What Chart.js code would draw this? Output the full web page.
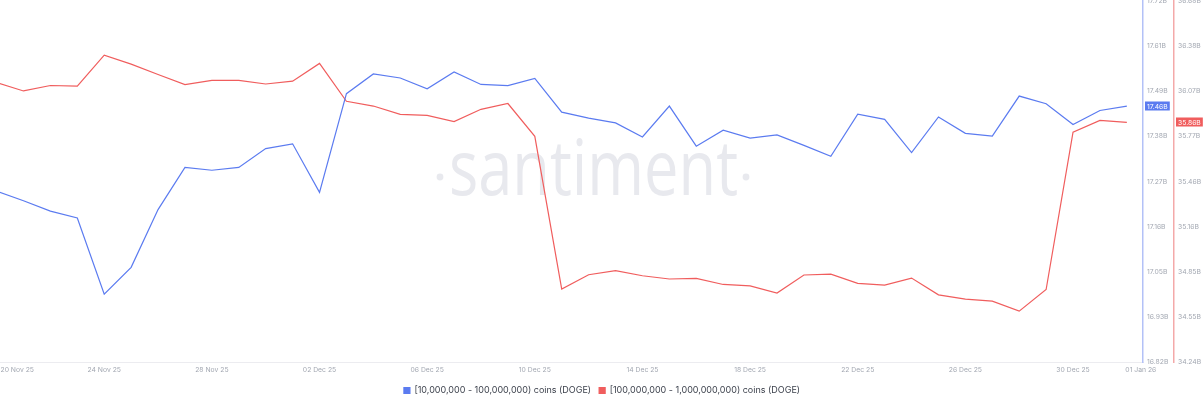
<!DOCTYPE html>
<html>
<head>
<meta charset="utf-8">
<script src="https://cdn.jsdelivr.net/npm/chart.js@4/dist/chart.umd.min.js"></script>
<style>
html,body{margin:0;padding:0;background:#fff;overflow:hidden;}
#wrap{position:relative;width:1204px;height:405px;}
</style>
</head>
<body>
<div id="wrap"><canvas id="c" width="1204" height="405"></canvas></div>
<script>
const dates = ['20 Nov 25','21 Nov 25','22 Nov 25','23 Nov 25','24 Nov 25','25 Nov 25','26 Nov 25','27 Nov 25','28 Nov 25','29 Nov 25','30 Nov 25',
  '01 Dec 25','02 Dec 25','03 Dec 25','04 Dec 25','05 Dec 25','06 Dec 25','07 Dec 25','08 Dec 25','09 Dec 25','10 Dec 25',
  '11 Dec 25','12 Dec 25','13 Dec 25','14 Dec 25','15 Dec 25','16 Dec 25','17 Dec 25','18 Dec 25','19 Dec 25','20 Dec 25',
  '21 Dec 25','22 Dec 25','23 Dec 25','24 Dec 25','25 Dec 25','26 Dec 25','27 Dec 25','28 Dec 25','29 Dec 25','30 Dec 25',
  '31 Dec 25','01 Jan 26'];

const blueSeries = [17.246,17.222,17.196,17.179,16.989,17.056,17.200,17.305,17.298,17.305,17.352,
  17.364,17.243,17.489,17.538,17.528,17.501,17.543,17.512,17.509,17.527,
  17.443,17.428,17.416,17.381,17.458,17.358,17.398,17.378,17.386,17.360,
  17.333,17.438,17.425,17.342,17.431,17.390,17.383,17.483,17.464,17.412,
  17.447,17.458];

const redSeries = [36.129,36.072,36.109,36.104,36.314,36.253,36.183,36.115,36.143,36.143,36.119,
  36.138,36.258,36.002,35.970,35.914,35.907,35.865,35.948,35.987,35.765,
  34.733,34.830,34.857,34.823,34.801,34.805,34.764,34.755,34.706,34.828,
  34.834,34.771,34.760,34.807,34.694,34.665,34.651,34.584,34.730,35.794,
  35.873,35.860];

const xTickIndex = [0,4,8,12,16,20,24,28,32,36,40,42];
const blueTickLabels = ['16.82B','16.93B','17.05B','17.16B','17.27B','17.38B','17.49B','17.61B','17.72B'];
const redTickLabels = ['34.24B','34.55B','34.85B','35.16B','35.46B','35.77B','36.07B','36.38B','36.68B'];
const seriesNames = ['[10,000,000 - 100,000,000) coins (DOGE)','[100,000,000 - 1,000,000,000) coins (DOGE)'];

const BLUE = '#5b7bf0';
const RED = '#f05d5d';
const tickFont = {family:'Inter, "Noto Sans", sans-serif', size:6.8};
const tickColor = '#a3a8b2';
const X_MIN = 0.127, X_MAX = 42.6;

const watermark = {
  id:'watermark',
  beforeDatasetsDraw(chart){
    const ctx = chart.ctx;
    ctx.save();
    ctx.fillStyle = '#e8e9ee';
    ctx.font = '400 77px "Open Sans", sans-serif';
    ctx.textBaseline = 'alphabetic';
    ctx.textAlign = 'left';
    const w = ctx.measureText('santiment').width;
    const sx = 289 / w;
    ctx.translate(449, 195);
    ctx.scale(sx, 1);
    ctx.fillText('santiment', 0, 0);
    ctx.setTransform(1,0,0,1,0,0);
    ctx.beginPath(); ctx.arc(440,177,3.4,0,Math.PI*2); ctx.fill();
    ctx.beginPath(); ctx.arc(746,177,3.4,0,Math.PI*2); ctx.fill();
    ctx.restore();
  }
};

const lastLabels = {
  id:'lastLabels',
  afterDraw(chart){
    const ctx = chart.ctx;
    const defs = [['yBlue',0,BLUE],['yRed',1,RED]];
    ctx.save();
    ctx.font = '6.8px Inter, "Noto Sans", sans-serif';
    ctx.textBaseline = 'middle';
    ctx.textAlign = 'left';
    defs.forEach(([sid,di,col])=>{
      const sc = chart.scales[sid];
      const arr = chart.data.datasets[di].data;
      const v = arr[arr.length-1].y;
      const y = Math.round(sc.getPixelForValue(v));
      const txt = v.toFixed(2)+'B';
      const w = ctx.measureText(txt).width + 4;
      ctx.fillStyle = col;
      ctx.fillRect(sc.left+2, y-4.5, w, 9);
      ctx.fillStyle = '#ffffff';
      ctx.fillText(txt, sc.left+4, y+0.5);
    });
    ctx.restore();
  }
};

function noPad(scale){ scale.paddingTop=0; scale.paddingBottom=0; scale.paddingLeft=0; scale.paddingRight=0; }

new Chart(document.getElementById('c'), {
  type:'line',
  data:{
    datasets:[
      {label:seriesNames[0], data:blueSeries.map((v,i)=>({x:i,y:v})), yAxisID:'yBlue',
       borderColor:BLUE, backgroundColor:BLUE, borderWidth:1.2, pointRadius:0, tension:0},
      {label:seriesNames[1], data:redSeries.map((v,i)=>({x:i,y:v})), yAxisID:'yRed',
       borderColor:RED, backgroundColor:RED, borderWidth:1.2, pointRadius:0, tension:0}
    ]
  },
  options:{
    responsive:false, animation:false,
    layout:{padding:{top:1,left:0,right:0,bottom:0}},
    plugins:{
      legend:{position:'bottom',
        labels:{boxWidth:6, boxHeight:6, padding:8, color:'#3d424d',
          font:{family:'Inter, "Noto Sans", sans-serif', size:9}}},
      tooltip:{enabled:false}
    },
    scales:{
      x:{type:'linear', min:X_MIN, max:X_MAX,
        grid:{display:false, drawTicks:false},
        border:{display:true, color:'#ececf0', width:1},
        afterBuildTicks(scale){
          // first label kept inside the plot's left edge, last label placed to the right of its day
          scale.ticks = xTickIndex.map((v,i)=>{
            let pos = v;
            if (i === 0) pos = X_MIN + 0.64;
            if (i === xTickIndex.length-1) pos = v + 0.52;
            return {value:pos, label:dates[v]};
          });
        },
        afterFit(scale){ noPad(scale); scale.height = 16; },
        ticks:{autoSkip:false, maxRotation:0, padding:4, color:tickColor, font:tickFont,
          callback:(v,i)=>dates[xTickIndex[i]]}
      },
      yBlue:{position:'right', weight:0, min:16.82, max:17.72,
        grid:{display:false, drawTicks:false},
        border:{display:true, color:'#b3c1f7', width:1.5},
        afterBuildTicks(scale){ scale.ticks = blueTickLabels.map((t,i)=>({value:16.82+i*0.1125})); },
        afterFit(scale){ noPad(scale); scale.width = 31; },
        ticks:{padding:4, color:tickColor, font:tickFont, callback:(v,i)=>blueTickLabels[i]}
      },
      yRed:{position:'right', weight:1, min:34.24, max:36.68,
        grid:{display:false, drawTicks:false},
        border:{display:true, color:'#f4a9a9', width:1.5},
        afterBuildTicks(scale){ scale.ticks = redTickLabels.map((t,i)=>({value:34.24+i*0.305})); },
        afterFit(scale){ noPad(scale); scale.width = 30; },
        ticks:{padding:4, color:tickColor, font:tickFont, callback:(v,i)=>redTickLabels[i]}
      }
    }
  },
  plugins:[watermark, lastLabels]
});
</script>
</body>
</html>
